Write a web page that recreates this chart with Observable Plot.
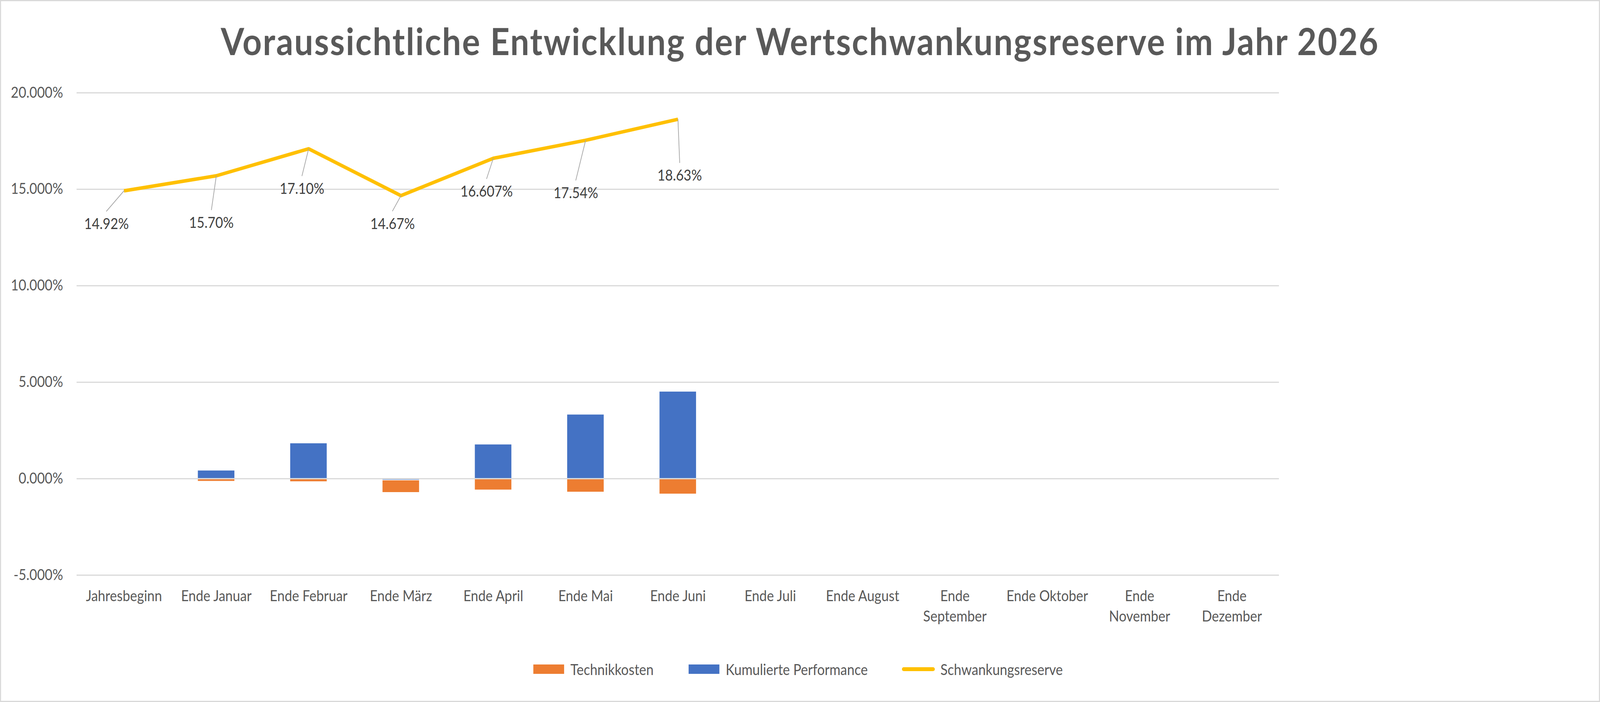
<!DOCTYPE html>
<html>
<head>
<meta charset="utf-8">
<script src="https://cdn.jsdelivr.net/npm/d3@7"></script>
<script src="https://cdn.jsdelivr.net/npm/@observablehq/plot@0.6"></script>
<style>
  html, body { margin: 0; padding: 0; background: #fff; overflow: hidden; }
  #frame { position: relative; width: 4575px; height: 1796px; overflow: hidden; background: #fff; font-family: Lato, "Open Sans", sans-serif; transform-origin: 0 0; }
  #border { position: absolute; left: 0; top: 0; width: 4575px; height: 1796px; box-sizing: border-box; border: 3px solid #d9d9d9; pointer-events: none; }
  #title { position: absolute; left: 0; width: 4575px; top: 56px; text-align: center; font-weight: 700; font-size: 96px; line-height: 96px; letter-spacing: 3px; color: #595959; white-space: nowrap; }
  #chart { position: absolute; left: 0; top: 180px; }
  #legend { position: absolute; left: 0; width: 4575px; top: 1682px; height: 60px; font-size: 38px; line-height: 38px; color: #595959; }
  .item { position: absolute; top: 0; height: 60px; display: flex; align-items: center; white-space: nowrap; }
  .sw { width: 88px; height: 24px; margin-right: 18px; flex: none; }
  .ln { width: 94px; height: 10px; border-radius: 5px; margin-right: 16px; flex: none; }
</style>
</head>
<body>
<div id="frame">
  <div id="title">Voraussichtliche Entwicklung der Wertschwankungsreserve im Jahr 2026</div>
  <div id="chart"></div>
  <div id="legend"></div>
  <div id="border"></div>
</div>
<script>
// ---- data ----
const categories = ["Jahresbeginn", "Ende Januar", "Ende Februar", "Ende März", "Ende April", "Ende Mai", "Ende Juni",
  "Ende Juli", "Ende August", "Ende September", "Ende Oktober", "Ende November", "Ende Dezember"];
const technikkosten = [null, -0.14, -0.16, -0.64, -0.59, -0.70, -0.80, null, null, null, null, null, null];
const kumuliertePerformance = [null, 0.43, 1.84, -0.08, 1.78, 3.33, 4.52, null, null, null, null, null, null];
const schwankungsreserve = [14.92, 15.70, 17.10, 14.67, 16.607, 17.54, 18.63, null, null, null, null, null, null];
const reserveLabels = ["14.92%", "15.70%", "17.10%", "14.67%", "16.607%", "17.54%", "18.63%"];
const yTicks = [-5, 0, 5, 10, 15, 20];
const seriesNames = ["Technikkosten", "Kumulierte Performance", "Schwankungsreserve"];
const seriesColors = ["#ED7D31", "#4472C4", "#FFC000"];
// label placement (pixel offsets from each point), layout only
const labelDx = [-50, -14, -19, -24, -19, -28, 5];
const labelDy = [86, 121, 103, 73, 86, 136, 145];
// legend item left edges (px), layout only
const legendLeft = [1525, 1969, 2579];

// ---- tables ----
const barRows = categories.flatMap((c, i) => [
  {cat: c, series: "Kumulierte Performance", value: kumuliertePerformance[i]},
  {cat: c, series: "Technikkosten", value: technikkosten[i]}
]).filter(d => d.value != null);
const lineRows = categories.map((c, i) => ({cat: c, value: schwankungsreserve[i]})).filter(d => d.value != null);

const leaderShape = {draw(ctx, l) { ctx.moveTo(0, 0); ctx.lineTo(0, -l); }};

const labelMarks = lineRows.flatMap((d, i) => {
  const ex = labelDx[i], ey = labelDy[i] - 34;
  const len = Math.hypot(ex, ey);
  const rot = Math.atan2(ex, -ey) * 180 / Math.PI;
  return [
    Plot.vector([d], {x: "cat", y: "value", length: len, rotate: rot, anchor: "start", shape: leaderShape,
      stroke: "#a6a6a6", strokeWidth: 2}),
    Plot.text([d], {x: "cat", y: "value", text: () => reserveLabels[i], dx: labelDx[i], dy: labelDy[i],
      fill: "#404040", fontSize: 38})
  ];
});

const chart = Plot.plot({
  width: 4575,
  height: 1460,
  marginLeft: 219,
  marginRight: 918,
  marginTop: 57,
  marginBottom: 169,
  style: {fontFamily: "Lato, 'Open Sans', sans-serif", fontSize: "38px", color: "#595959", background: "transparent"},
  x: {domain: categories, paddingInner: 0.6, paddingOuter: 0.3, label: null},
  y: {domain: [-5, 20], label: null},
  color: {domain: seriesNames.slice(0, 2), range: seriesColors.slice(0, 2)},
  marks: [
    Plot.barY(barRows, {x: "cat", y: "value", fill: "series", order: ["Kumulierte Performance", "Technikkosten"],
      stroke: "#ffffff", strokeWidth: 1.5}),
    Plot.gridY({ticks: yTicks, stroke: "#d9d9d9", strokeOpacity: 1, strokeWidth: 3}),
    Plot.axisY({ticks: yTicks, tickSize: 0, tickPadding: 39, tickFormat: d => d.toFixed(3) + "%", label: null}),
    Plot.axisX({tickSize: 0, tickPadding: 29, lineHeight: 1.38, label: null,
      tickFormat: d => d.length > 12 ? d.replace(" ", "\n") : d}),
    Plot.line(lineRows, {x: "cat", y: "value", stroke: seriesColors[2], strokeWidth: 9,
      strokeLinejoin: "miter", strokeLinecap: "butt"}),
    ...labelMarks
  ]
});
document.getElementById("chart").appendChild(chart);

// ---- legend ----
const legend = document.getElementById("legend");
seriesNames.forEach((name, i) => {
  const item = document.createElement("div");
  item.className = "item";
  item.style.left = legendLeft[i] + "px";
  const sw = document.createElement("div");
  sw.className = i === 2 ? "ln" : "sw";
  sw.style.background = seriesColors[i];
  const label = document.createElement("span");
  label.textContent = name;
  item.appendChild(sw);
  item.appendChild(label);
  legend.appendChild(item);
});

// fit the 4575px-wide design into the actual viewport width
const s = Math.min(1, window.innerWidth / 4575);
document.getElementById("frame").style.transform = `scaleX(${s})`;
</script>
</body>
</html>
